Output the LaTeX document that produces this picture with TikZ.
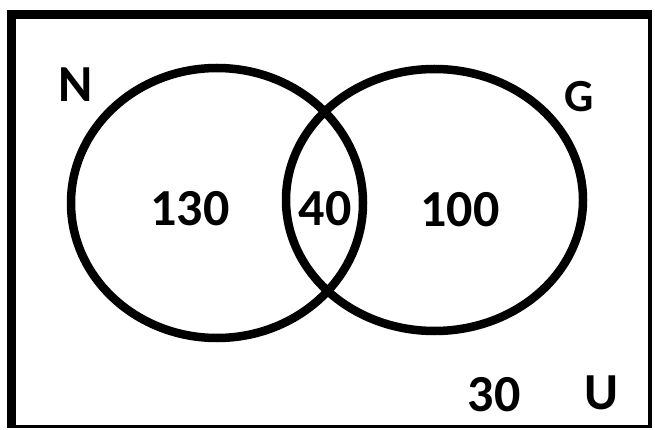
\documentclass[tikz,border=0pt]{standalone}
\usepackage{fontspec}
\setmainfont{Carlito}
\begin{document}
\begin{tikzpicture}[x=1pt,y=-1pt,
  setline/.style={line width=8.5pt, black},
  lbl/.style={font=\bfseries\fontsize{46}{46}\selectfont, inner sep=0pt, anchor=center},
  biglbl/.style={font=\bfseries\fontsize{52}{52}\selectfont, inner sep=0pt, anchor=center}]
\useasboundingbox (0,0) rectangle (655,430);
\fill[white] (0,0) rectangle (655,430);
% universe frame: heavy on the left and top, light on the right and bottom
\fill[black] (7,10) rectangle (652,428);
\fill[white] (16,19) rectangle (648,425);
% the two sets
\draw[setline] (217,203) ellipse [x radius=146, y radius=135];
\draw[setline] (434.5,200) ellipse [x radius=148.5, y radius=131];
% region counts
\node[biglbl] (onlyN) at (190,209) {130};
\node[biglbl] (both) at (325,209) {40};
\node[biglbl] (onlyG) at (460,210) {100};
\node[biglbl] (none) at (494,395) {30};
% set names
\node[biglbl] (labN) at (76,85) {N};
\node[lbl] (labG) at (579,97) {G};
\node[biglbl] (labU) at (601,393) {U};
\end{tikzpicture}
\end{document}
